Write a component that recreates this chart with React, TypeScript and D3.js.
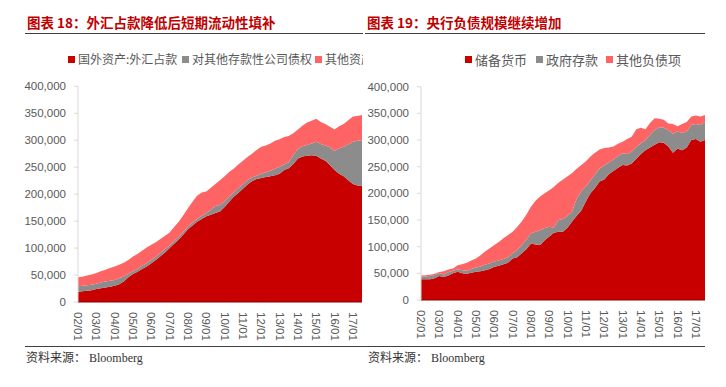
import * as d3 from "d3";

// quarterly observations, 2002/01 .. 2017/07 (亿元)
const periods = d3.timeMonth.range(new Date(2002, 0, 1), new Date(2017, 7, 1), 3);

const xTickLabels = ["02/01", "03/01", "04/01", "05/01", "06/01", "07/01", "08/01", "09/01", "10/01", "11/01", "12/01", "13/01", "14/01", "15/01", "16/01", "17/01"];
const yTicks = [0, 50000, 100000, 150000, 200000, 250000, 300000, 350000, 400000];

// 图表18
const assetKeys = ["国外资产:外汇占款", "对其他存款性公司债权", "其他资产"];
const forexAssets = [
  19, 20, 21, 22, 24, 25.5, 27, 28.5, 30, 33, 38, 46, 52, 56, 61, 66,
  72, 78, 85, 92, 100, 108, 116, 125, 135, 142, 149, 154, 159, 162, 165, 168,
  176, 186, 195, 202, 210, 218, 224, 228, 230, 232, 233, 235, 238, 245, 248, 256,
  266, 270, 271, 272, 271, 266, 262, 254, 245, 238, 233, 226, 219, 216, 215,
];
const claimsOnBanks = [
  10, 10, 10, 10, 10, 10.5, 11, 11, 11, 11, 9.5, 6, 5, 5, 6, 6,
  6, 6, 6, 6, 5, 5, 5, 5, 5, 5, 5, 6, 6, 9, 13, 12,
  11, 9, 8, 9, 8, 8, 7, 6, 8, 8, 10, 12, 13, 10, 11, 16,
  18, 19, 20, 22, 26, 27, 28, 33, 35, 47, 55, 66, 78, 83, 85,
];
const otherAssets = [
  17, 17, 18, 19, 20, 21, 22, 23.5, 25, 25, 25.5, 26, 27.5, 28, 28, 29,
  28, 27, 26, 25, 24, 26, 28, 31, 34, 39, 43, 43, 40, 41, 41, 46,
  46, 46, 44, 44, 44, 43, 44, 48, 50, 50, 51, 52, 51, 51, 49, 41,
  36, 38, 42, 42, 43, 41, 40, 38, 40, 41, 42, 45, 47, 46, 47,
];

// 图表19
const liabKeys = ["储备货币", "政府存款", "其他负债项"];
const reserveMoney = [
  39, 39, 39, 41, 45, 43, 46, 50, 53, 50, 49, 51, 53, 54, 56, 58,
  62.5, 64, 67, 70, 78, 80, 87.5, 95, 106, 104, 103, 112, 119, 126, 128, 128,
  136, 147, 158, 168, 185, 200, 210, 222, 226, 236, 242, 248, 253, 252, 256, 265,
  274, 281, 286, 291, 296, 295, 288, 276, 284, 281, 286, 300, 302, 297, 300,
];
const govDeposits = [
  5, 5, 6, 6, 5, 5, 6, 5, 4.5, 6, 6, 7, 8, 9, 10, 11,
  9.5, 10, 10, 10, 9.5, 14, 15.5, 18, 19, 24, 28, 23, 18.5, 10, 22, 24,
  22, 19, 32, 36, 28, 24, 26, 25, 26, 22, 21, 22, 22, 22, 22, 22,
  20, 19, 24, 28, 28, 28, 31, 36, 32, 32, 30, 28, 28, 31, 34,
];
const otherLiabs = [
  2, 2.5, 2.5, 2, 2.5, 6, 5, 4, 7.5, 11, 15, 16, 17, 21, 25, 28,
  31, 35, 39, 42, 40.5, 43, 44, 47, 50, 58, 63, 65, 68.5, 76, 70, 74,
  74, 72, 56, 49, 47, 45, 40, 35, 33, 28, 25, 23, 22, 28, 28, 33,
  29, 20, 22, 22, 16, 15, 12, 18, 10, 17, 18, 16, 16, 16, 13,
];

const colors = ["#C80000", "#8C8C8C", "#FF6464"];
const axisGray = "#595959";

type PanelProps = {
  x0: number;
  title: string;
  keys: string[];
  series: number[][];
  plot: { left: number; right: number; top: number; bottom: number };
  labelTop: number;
  legend: { x: number; fontSize: number; gap: number[] };
  lineRight: number;
};

const Panel = ({ x0, title, keys, series, plot, labelTop, legend, lineRight }: PanelProps) => {
  const rows = periods.map((d, i) => {
    const r: any = { date: d };
    keys.forEach((k, j) => (r[k] = series[j][i] * 1000));
    return r;
  });
  const stacked = d3.stack<any>().keys(keys)(rows);

  const x = d3
    .scaleTime()
    .domain([new Date(2002, 0, 1), new Date(2017, 6, 1)])
    .range([plot.left, plot.right]);
  const y = d3.scaleLinear().domain([0, 400000]).range([plot.bottom, plot.top]);

  const area = d3
    .area<any>()
    .x((d) => x(d.data.date))
    .y0((d) => y(d[0]))
    .y1((d) => y(d[1]));

  const fmt = d3.format(",");
  const clipId = `clip-${x0}`;

  return (
    <g>
      <defs>
        <clipPath id={clipId}>
          <rect x={x0} y={0} width={363} height={387} />
        </clipPath>
      </defs>
      <g clipPath={`url(#${clipId})`}>
        <text
          x={x0 + (x0 === 0 ? 27 : 4)}
          y={28}
          fill="#C00000"
          fontSize={13.5}
          fontWeight="bold"
          fontFamily="'Noto Sans CJK SC', sans-serif"
        >
          {title}
        </text>
        <line x1={x0 === 0 ? 25 : x0 + 2} x2={lineRight} y1={33.5} y2={33.5} stroke="#404040" strokeWidth={1} />

        {keys.map((k, i) => {
          const lx = legend.x + legend.gap[i];
          return (
            <g key={k}>
              <rect x={lx} y={56} width={7} height={7} fill={colors[i]} />
              <text
                x={lx + 10}
                y={60}
                dy="0.35em"
                fill={axisGray}
                fontSize={legend.fontSize}
                fontFamily="'Noto Sans CJK SC', sans-serif"
              >
                {k}
              </text>
            </g>
          );
        })}

        {stacked.map((s, i) => (
          <path key={s.key} d={area(s) ?? ""} fill={colors[i]} />
        ))}
        <line x1={plot.left} x2={plot.right} y1={plot.bottom} y2={plot.bottom} stroke="#8B0000" strokeWidth={1.2} />

        <line x1={plot.left} x2={plot.left} y1={plot.top} y2={plot.bottom} stroke="#D9D9D9" />
        {yTicks.map((t) => (
          <g key={t}>
            <line x1={plot.left - 4} x2={plot.left} y1={y(t)} y2={y(t)} stroke="#D9D9D9" />
            <text
              x={plot.left - 12}
              y={y(t)}
              dy="0.35em"
              textAnchor="end"
              fill={axisGray}
              fontSize={11.5}
              fontFamily="'Liberation Sans', sans-serif"
            >
              {fmt(t)}
            </text>
          </g>
        ))}

        {xTickLabels.map((lab, i) => {
          const tx = x(new Date(2002 + i, 0, 1));
          return (
            <text
              key={lab}
              transform={`translate(${tx},${labelTop}) rotate(90)`}
              dy="0.35em"
              fill={axisGray}
              fontSize={11.5}
              fontFamily="'Liberation Sans', sans-serif"
            >
              {lab}
            </text>
          );
        })}

        <line x1={x0 === 0 ? 25 : x0} x2={lineRight} y1={346.5} y2={346.5} stroke="#404040" strokeWidth={1} />
        <text
          x={x0 === 0 ? 26 : x0 + 5}
          y={362}
          fill="#333"
          fontSize={12}
          fontFamily="'Liberation Serif', 'Noto Sans CJK SC', serif"
        >
          资料来源： Bloomberg
        </text>
      </g>
    </g>
  );
};

export default function App() {
  return (
    <svg width={726} height={387} style={{ position: "absolute", left: 0, top: 0, background: "#fff" }}>
      <Panel
        x0={0}
        title="图表 18：外汇占款降低后短期流动性填补"
        keys={assetKeys}
        series={[forexAssets, claimsOnBanks, otherAssets]}
        plot={{ left: 78, right: 362, top: 86.3, bottom: 302 }}
        labelTop={312}
        legend={{ x: 68, fontSize: 12, gap: [0, 114, 247] }}
        lineRight={363}
      />
      <Panel
        x0={363}
        title="图表 19：央行负债规模继续增加"
        keys={liabKeys}
        series={[reserveMoney, govDeposits, otherLiabs]}
        plot={{ left: 421, right: 705, top: 86.7, bottom: 300 }}
        labelTop={310}
        legend={{ x: 465, fontSize: 13, gap: [0, 71, 141] }}
        lineRight={705}
      />
    </svg>
  );
}
